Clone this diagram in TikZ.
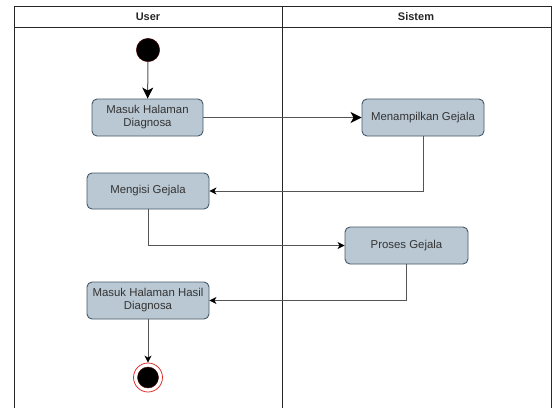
\documentclass[tikz,border=0pt]{standalone}
\usepackage{fontspec}
\setmainfont{Liberation Sans}
\usetikzlibrary{arrows.meta}
\definecolor{boxfill}{HTML}{BAC8D3}
\definecolor{boxline}{HTML}{44586A}
\definecolor{boxtext}{HTML}{333333}
\definecolor{edgegray}{HTML}{555555}
\definecolor{endred}{HTML}{E03030}
\tikzset{
  activity/.style={draw=boxline, fill=boxfill, rounded corners=5pt, line width=0.9pt,
    text=boxtext, align=center, inner sep=0pt, font=\fontsize{11.4}{13}\selectfont},
  flow/.style={draw=edgegray, line width=1pt},
  bigtip/.style={-{Stealth[length=11pt, width=11pt, inset=3pt, color=black]}},
  smalltip/.style={-{Stealth[length=7pt, width=7pt, inset=2pt, color=black]}},
  lane/.style={draw=black!85, line width=1pt},
}
\begin{document}
\begin{tikzpicture}[x=1pt, y=-1pt]
            \useasboundingbox (0,0) rectangle (552,408);
            % Swimlanes
            \draw[lane] (14,408) -- (14,6) -- (551,6) -- (551,408);
            \draw[lane] (14,27) -- (551,27);
            \draw[lane] (282,6) -- (282,408);
            \node[font=\bfseries\fontsize{11}{13}\selectfont, text=black!85] (user) at (148,16.5) {User};
            \node[font=\bfseries\fontsize{11}{13}\selectfont, text=black!85] (sistem) at (416,16.5) {Sistem};

            % Nodes
            \node[circle, fill=black, draw=black!70!red, minimum size=23.4pt, inner sep=0pt] (start) at (148,50) {};
            \node[activity, minimum width=111pt, minimum height=37pt] (masuk) at (147.5,117.5) {Masuk Halaman\\Diagnosa};
            \node[activity, minimum width=122pt, minimum height=37pt] (tampil) at (423,117.5) {Menampilkan Gejala};
            \node[activity, minimum width=122pt, minimum height=36pt] (isi) at (148,191) {Mengisi Gejala};
            \node[activity, minimum width=123pt, minimum height=37pt] (proses) at (406.5,245.5) {Proses Gejala};
            \node[activity, minimum width=122pt, minimum height=37pt] (hasil) at (148,300.5) {Masuk Halaman Hasil\\Diagnosa};
            \node[circle, draw=endred, fill=white, line width=0.8pt, minimum size=29pt, inner sep=0pt] (finish) at (148,377.5) {};
            \node[circle, fill=black, draw=black!70!red, minimum size=21pt, inner sep=0pt] (finishdot) at (finish) {};

            % Edges
            \draw[flow, bigtip] (start) -- (masuk);
            \draw[flow, bigtip] (masuk) -- (tampil);
            \draw[flow, smalltip] (tampil.south) |- (isi.east);
            \draw[flow, smalltip] (isi.south) |- (proses.west);
            \draw[flow, smalltip] (proses.south) |- (hasil.east);
            \draw[flow, smalltip] (hasil) -- (finish);
        \end{tikzpicture}
\end{document}
